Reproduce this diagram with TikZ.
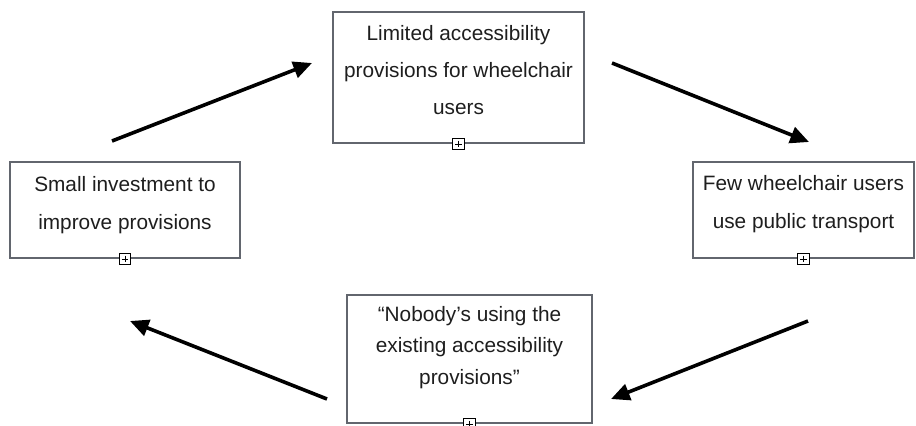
\documentclass[tikz,border=0pt]{standalone}
\usepackage{fontspec}
\setmainfont{Liberation Sans}
\usetikzlibrary{arrows.meta,calc}

\definecolor{boxgray}{RGB}{98,102,110}
\definecolor{txtgray}{RGB}{30,30,30}

\tikzset{
  cyclebox/.style={draw=boxgray, line width=1.5pt, fill=white, inner sep=0pt},
  cycletext/.style={align=center, text=txtgray, inner sep=0pt, font=\fontsize{15.6}{27.5}\selectfont},
  expander/.style={draw=black, fill=white, line width=0.6pt, minimum size=8.5pt, inner sep=0pt,
    path picture={\draw[line width=0.6pt, shorten >=1.7pt, shorten <=1.7pt]
      (path picture bounding box.west) -- (path picture bounding box.east);
      \draw[line width=0.6pt, shorten >=1.7pt, shorten <=1.7pt]
      (path picture bounding box.north) -- (path picture bounding box.south);}},
  cyclearrow/.style={line width=2.7pt, -{Triangle[length=14pt,width=12.5pt]}}
}

\begin{document}
\begin{tikzpicture}[x=0.75pt,y=0.75pt,yscale=-1,xscale=1]
\useasboundingbox (0,0) rectangle (916,425);

%Shape: Rectangle [limited]
\node [cyclebox, minimum width=188.25pt, minimum height=98.25pt] (limited) at (458.5,77.5) {};
% Text Node
\node [cycletext] (limitedtext) at (458.5,70) {Limited accessibility\\provisions for wheelchair\\users};
\node [expander] (limitedexp) at (limited.south) {};

%Shape: Rectangle [few]
\node [cyclebox, minimum width=165.75pt, minimum height=72pt] (few) at (803.5,210) {};
% Text Node
\node [cycletext, font=\fontsize{15.6}{29}\selectfont] (fewtext) at (803.5,204) {Few wheelchair users\\use public transport};
\node [expander] (fewexp) at (few.south) {};

%Shape: Rectangle [nobody]
\node [cyclebox, minimum width=183.75pt, minimum height=96pt] (nobody) at (469.5,359) {};
% Text Node
\node [cycletext, font=\fontsize{15.6}{23.5}\selectfont] (nobodytext) at (469.5,347.5) {“Nobody’s using the\\existing accessibility\\provisions”};
\node [expander] (nobodyexp) at (nobody.south) {};

%Shape: Rectangle [small]
\node [cyclebox, minimum width=172.5pt, minimum height=72pt] (small) at (125,210) {};
% Text Node
\node [cycletext, font=\fontsize{15.6}{29}\selectfont] (smalltext) at (125,205) {Small investment to\\improve provisions};
\node [expander] (smallexp) at (small.south) {};

%Arrow ends
\coordinate (toplefts) at (112,141);
\coordinate (topleftt) at (312,63);
\coordinate (toprights) at (612,63);
\coordinate (toprightt) at (809,142);
\coordinate (botrights) at (808,321);
\coordinate (botrightt) at (611,399);
\coordinate (botlefts) at (327,399);
\coordinate (botleftt) at (130,321);

%Straight Lines
\draw [cyclearrow] (toplefts) -- (topleftt);
%Straight Lines
\draw [cyclearrow] (toprights) -- (toprightt);
%Straight Lines
\draw [cyclearrow] (botrights) -- (botrightt);
%Straight Lines
\draw [cyclearrow] (botlefts) -- (botleftt);

\end{tikzpicture}
\end{document}
